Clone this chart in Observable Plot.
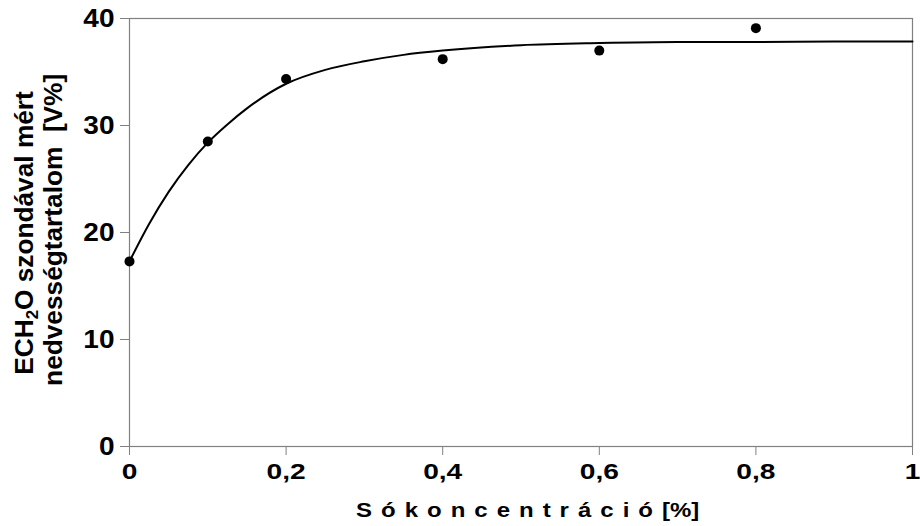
<!DOCTYPE html>
<html><head><meta charset="utf-8">
<script src="https://cdn.jsdelivr.net/npm/d3@7"></script>
<script src="https://cdn.jsdelivr.net/npm/@observablehq/plot@0.6"></script>
<style>body{margin:0;background:#fff}</style>
</head><body><div id="chart"></div>
<script>
// Measured points
const measX = [0, 0.1, 0.2, 0.4, 0.6, 0.8];
const measY = [17.3, 28.5, 34.35, 36.2, 37.0, 39.1];
// Fitted curve
const fitX = [0, 0.025, 0.05, 0.075, 0.1, 0.125, 0.15, 0.2, 0.25, 0.3, 0.35, 0.4, 0.5, 0.6, 0.7, 0.8, 0.9, 1.0];
const fitY = [17.3, 20.8, 23.8, 26.3, 28.4, 30.1, 31.6, 33.9, 35.2, 36.0, 36.6, 37.0, 37.5, 37.7, 37.8, 37.8, 37.85, 37.85];
const xTicks = [0, 0.2, 0.4, 0.6, 0.8, 1];
const yTicks = [0, 10, 20, 30, 40];

const meas = measX.map((x, i) => ({x, y: measY[i]}));
const fit = fitX.map((x, i) => ({x, y: fitY[i]}));
const fmt = d => String(d).replace(".", ",");
const FONT = "'Liberation Sans', Arial, sans-serif";

const plot = Plot.plot({
  width: 920, height: 526,
  marginLeft: 129, marginRight: 8, marginTop: 18, marginBottom: 80,
  style: {fontFamily: FONT, fontWeight: "bold", color: "#000", background: "#fff"},
  x: {domain: [0, 1]},
  y: {domain: [0, 40]},
  marks: [
    Plot.frame({stroke: "#808080", strokeWidth: 1.2}),
    Plot.axisX({ticks: xTicks, tickFormat: fmt, tickSize: 9, tickPadding: 8, stroke: "#808080", label: null, fill: "#000", fontSize: 22.5}),
    Plot.axisY({ticks: yTicks, tickSize: 9, tickPadding: 6, stroke: "#808080", label: null, fill: "#000", fontSize: 25}),
    Plot.line(fit, {x: "x", y: "y", curve: "monotone-x", stroke: "#000", strokeWidth: 2}),
    Plot.dot(meas, {x: "x", y: "y", r: 5, fill: "#000"})
  ]
});
document.getElementById("chart").appendChild(plot);

const svg = d3.select(plot);
// widen tick label glyphs horizontally like the reference's wide bold face
function widen(sel, s) {
  sel.each(function () {
    const t = this.getAttribute("transform") || "";
    this.setAttribute("transform", t + ` scale(${s},1)`);
    const x = this.getAttribute("x");
    if (x) this.setAttribute("x", +x / s);
  });
}
widen(svg.selectAll("g[aria-label='x-axis tick label'] text"), 1.25);
widen(svg.selectAll("g[aria-label='y-axis tick label'] text"), 1.12);

// x-axis title
const xt = svg.append("text")
  .attr("transform", "translate(356,517) scale(1.2,1)")
  .attr("text-anchor", "start")
  .style("font-size", "20px").style("font-weight", "bold").style("font-family", FONT).attr("fill", "#000");
xt.append("tspan").attr("letter-spacing", "7.5px").text("Sókoncentráció");
xt.append("tspan").attr("letter-spacing", "0px").text("[%]");

// y-axis title (two lines, rotated)
const yt = svg.append("g").attr("transform", "translate(33,233) rotate(-90) scale(1.05,1)");
const l1 = yt.append("text").attr("text-anchor", "middle")
  .style("font-size", "25px").style("font-weight", "bold").style("font-family", FONT).attr("fill", "#000");
l1.append("tspan").text("ECH");
l1.append("tspan").style("font-size", "16px").attr("dy", 5).text("2");
l1.append("tspan").attr("dy", -5).text("O szondával mért");
yt.append("text").attr("text-anchor", "middle").attr("y", 29).attr("x", 3)
  .style("font-size", "25px").style("font-weight", "bold").style("font-family", FONT).attr("fill", "#000")
  .style("white-space", "pre").text("nedvességtartalom  [V%]");
</script>
</body></html>
